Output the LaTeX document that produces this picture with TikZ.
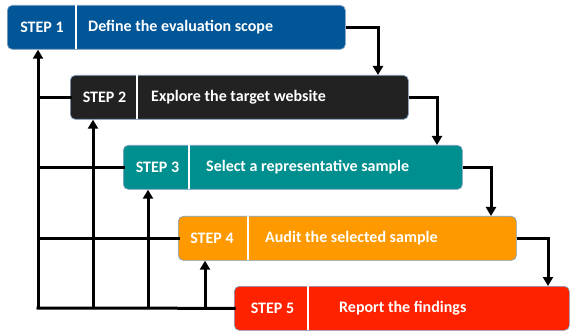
\documentclass[tikz,border=0pt]{standalone}
\usepackage{fontspec}
\setmainfont{Carlito}
\usetikzlibrary{arrows.meta}
\definecolor{cblue}{HTML}{005697}
\definecolor{cdark}{HTML}{222222}
\definecolor{cteal}{HTML}{008F8F}
\definecolor{corange}{HTML}{FF9900}
\definecolor{cred}{HTML}{FF2200}
\definecolor{cedge}{HTML}{7F9DBF}
\begin{document}
\begin{tikzpicture}[x=1pt,y=-1pt,
  stepbox/.style={draw=cedge,line width=0.7pt,rounded corners=5pt,minimum height=44pt,inner sep=0pt,anchor=north west},
  divider/.style={white,line width=2pt},
  lab/.style={text=white,font=\bfseries\fontsize{16}{18}\selectfont,inner sep=0pt},
  desc/.style={lab,anchor=west},
  conn/.style={line width=3pt,line cap=rect},
  arr/.style={line width=3pt,-{Triangle[width=10pt,length=9pt]}}]
\useasboundingbox (0,0) rectangle (570,331);
% boxes
\node[stepbox,fill=cblue,minimum width=338pt] (b1) at (7,5) {};
\node[stepbox,fill=cdark,minimum width=338pt] (b2) at (70,75) {};
\node[stepbox,fill=cteal,minimum width=339pt] (b3) at (123,145) {};
\node[stepbox,fill=corange,minimum width=338pt] (b4) at (178,216) {};
\node[stepbox,fill=cred,minimum width=335pt] (b5) at (234,286) {};
% dividers
\draw[divider] (76,5.4) -- (76,48.6);
\draw[divider] (137,75.4) -- (137,118.6);
\draw[divider] (189,145.4) -- (189,188.6);
\draw[divider] (248,216.4) -- (248,259.6);
\draw[divider] (308,286.4) -- (308,329.6);
% labels
\node[lab] (s1) at (42,27) {STEP 1};
\node[lab] (s2) at (104.5,97) {STEP 2};
\node[lab] (s3) at (157.5,167) {STEP 3};
\node[lab] (s4) at (212,238) {STEP 4};
\node[lab] (s5) at (272.5,308) {STEP 5};
\node[desc] (t1) at (88,27) {Define the evaluation scope};
\node[desc] (t2) at (151,97) {Explore the target website};
\node[desc] (t3) at (206,167) {Select a representative sample};
\node[desc] (t4) at (265,238) {Audit the selected sample};
\node[desc] (t5) at (339,308) {Report the findings};
% forward connectors
\coordinate (d2) at (378,75);
\coordinate (d3) at (437,145);
\coordinate (d4) at (491,216);
\coordinate (d5) at (548,286);
\draw[arr] (b1.east) -| (d2);
\draw[arr] (b2.east) -| (d3);
\draw[arr] (b3.east) -| (d4);
\draw[arr] (b4.east) -| (d5);
% feedback connectors
\coordinate (c0) at (38,308);
\coordinate (f2) at (93,308);
\coordinate (f3) at (148,308);
\coordinate (f4) at (205,308);
\draw[conn] (b5.west) -- (c0);
\draw[arr] (c0) -- (c0 |- b1.south);
\draw[conn] (b2.west) -- (b2.west -| c0);
\draw[conn] (b3.west) -- (b3.west -| c0);
\draw[conn] (b4.west) -- (b4.west -| c0);
\draw[arr] (f2) -- (f2 |- b2.south);
\draw[arr] (f3) -- (f3 |- b3.south);
\draw[arr] (f4) -- (f4 |- b4.south);
\end{tikzpicture}
\end{document}
